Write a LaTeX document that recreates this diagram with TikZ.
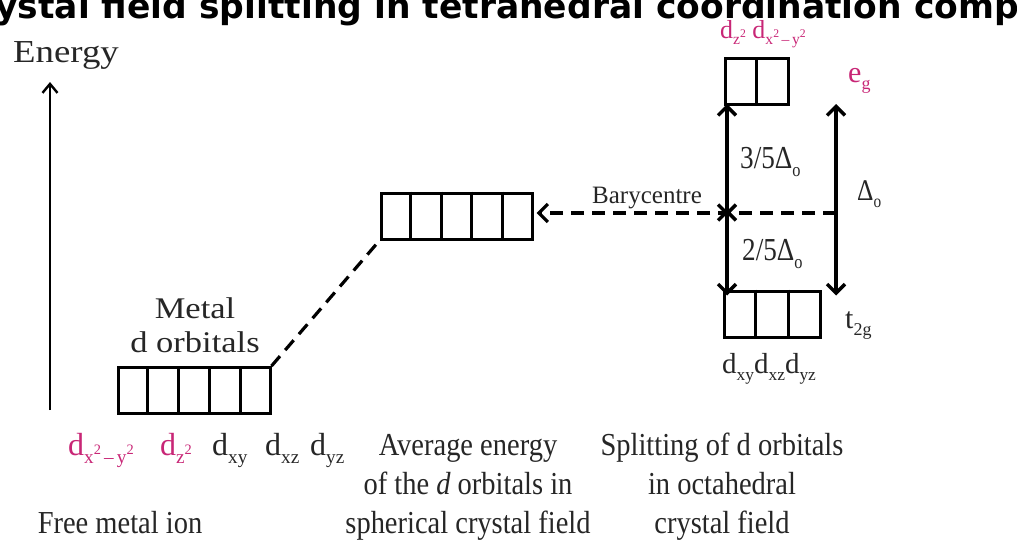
\documentclass[tikz,border=0pt]{standalone}
\usepackage{graphicx}
\usepackage{fontspec}
\setmainfont{Liberation Serif}
\newfontfamily\capfont{Liberation Serif}[FakeStretch=0.89]
\newfontfamily\widefont{Liberation Serif}[FakeStretch=1.15]
\newfontfamily\numfont{Liberation Serif}[FakeStretch=0.85]
\newfontfamily\headfont{DejaVu Sans}
\usetikzlibrary{arrows.meta,calc}
\definecolor{orbpink}{RGB}{200,38,118}
\newcommand{\sbs}[1]{\raisebox{-0.25em}{\scalebox{0.6}{#1}}}
\newcommand{\sps}[1]{\raisebox{0.45em}{\scalebox{0.75}{#1}}}
\tikzset{
  orb/.style={draw, line width=3pt, inner sep=0pt, minimum height=46pt},
  lvl/.style={line width=3.2pt, dash pattern=on 13pt off 8pt},
  spl/.style={{Straight Barb[length=9pt,width=18pt]}-{Straight Barb[length=9pt,width=18pt]}, line width=3.4pt},
  half/.style={-{Straight Barb[length=9pt,width=18pt]}, line width=3.4pt},
  enax/.style={-{Straight Barb[length=9pt,width=15pt]}, line width=2.4pt},
  lbl/.style={inner sep=0pt, anchor=base west, text=black!85},
  capt/.style={lbl, anchor=base, align=center, font=\capfont\fontsize{32}{39}\selectfont},
}

\begin{document}
\begin{tikzpicture}[x=1pt,y=-1pt]
  \useasboundingbox (0,0) rectangle (1017,541);
  % --- heading (cut by the page) ---
  \node[lbl, text=black, font=\headfont\bfseries\fontsize{34.5}{36}\selectfont] (head) at (-5,18)
    {ystal field splitting in tetrahedral coordination comp};

  % --- energy axis ---
  \node[lbl, font=\widefont\fontsize{32}{36}\selectfont] (energy) at (13,62) {Energy};
  \coordinate (ebot) at (50,410);
  \coordinate (etop) at (50,82);
  \draw[enax] (ebot) -- (etop);

  % --- orbital sets ---
  \node[orb, minimum width=152pt] (free) at (194,390.5) {};
  \node[orb, minimum width=151pt] (avg) at (456.5,216) {};
  \node[orb, minimum width=63pt] (eg) at (756.5,81.5) {};
  \node[orb, minimum width=96pt] (t2) at (772,314) {};
  \foreach \b/\n in {free/5, avg/5, eg/2, t2/3}{
    \pgfmathtruncatemacro{\m}{\n-1}
    \foreach \k in {1,...,\m}
      \draw[line width=3pt] ($(\b.north west)!\k/\n!(\b.north east)$) -- ($(\b.south west)!\k/\n!(\b.south east)$);
  }

  % --- free ion ---
  \node[lbl, anchor=base, align=center, font=\widefont\fontsize{30}{34}\selectfont] (metal) at (195,352)
    {Metal\\d orbitals};
  \node[lbl, text=orbpink, font=\fontsize{32}{36}\selectfont] (fa) at (68,455)
    {d\sbs{x\sps{2}\,–\,y\sps{2}}};
  \node[lbl, text=orbpink, font=\fontsize{32}{36}\selectfont] (fb) at (160,455) {d\sbs{z\sps{2}}};
  \node[lbl, font=\fontsize{32}{36}\selectfont] (fc) at (212,455) {d\sbs{xy}};
  \node[lbl, font=\fontsize{32}{36}\selectfont] (fd) at (265,455) {d\sbs{xz}};
  \node[lbl, font=\fontsize{32}{36}\selectfont] (fe) at (310,455) {d\sbs{yz}};

  % --- barycentre ---
  \coordinate (bc) at (727,213);
  \coordinate (bcr) at (836,213);
  \draw[lvl] (free.north east) -- (avg.south west);
  \draw[lvl, -{Straight Barb[length=9pt,width=18pt]}] (bcr) -- ([xshift=3pt]avg.east |- bc);
  \node[lbl, font=\fontsize{25}{28}\selectfont] (bary) at (592,203) {Barycentre};

  % --- splitting ---
  \draw[spl] ([yshift=-3pt]bc) -- ([yshift=2pt]bc |- eg.south);
  \draw[spl] ([yshift=4pt]bc) -- ([yshift=-6pt]bc |- t2.north);
  \draw[half] ([yshift=-2pt]bcr) -- ([yshift=2pt]bcr |- eg.south);
  \draw[half] ([yshift=4pt]bcr) -- ([yshift=-6pt]bcr |- t2.north);
  \node[lbl, font=\numfont\fontsize{32}{36}\selectfont] (up) at (740,168) {3/5Δ\sbs{o}};
  \node[lbl, font=\numfont\fontsize{32}{36}\selectfont] (dn) at (742,260) {2/5Δ\sbs{o}};
  \node[lbl, font=\numfont\fontsize{30}{34}\selectfont] (dlt) at (857,200) {Δ\sbs{o}};
  \node[lbl, text=orbpink, font=\fontsize{30}{34}\selectfont] (egl) at (848,82) {e\sbs{g}};
  \node[lbl, font=\fontsize{30}{34}\selectfont] (t2l) at (845,328) {t\sbs{2g}};
  \node[lbl, text=orbpink, font=\fontsize{26}{28}\selectfont] (egn) at (720,38)
    {d\sbs{z\sps{2}} d\sbs{x\sps{2}\,–\,y\sps{2}}};
  \node[lbl, font=\fontsize{29}{32}\selectfont] (t2n) at (722,373)
    {d\sbs{xy}d\sbs{xz}d\sbs{yz}};

  % --- captions ---
  \node[capt] (cfree) at (120,533) {Free metal ion};
  \node[capt] (cavg) at (468,533) {Average energy\\of the \textit{d} orbitals in\\spherical crystal field};
  \node[capt] (csplit) at (722,533) {Splitting of d orbitals\\in octahedral\\crystal field};
\end{tikzpicture}
\end{document}
